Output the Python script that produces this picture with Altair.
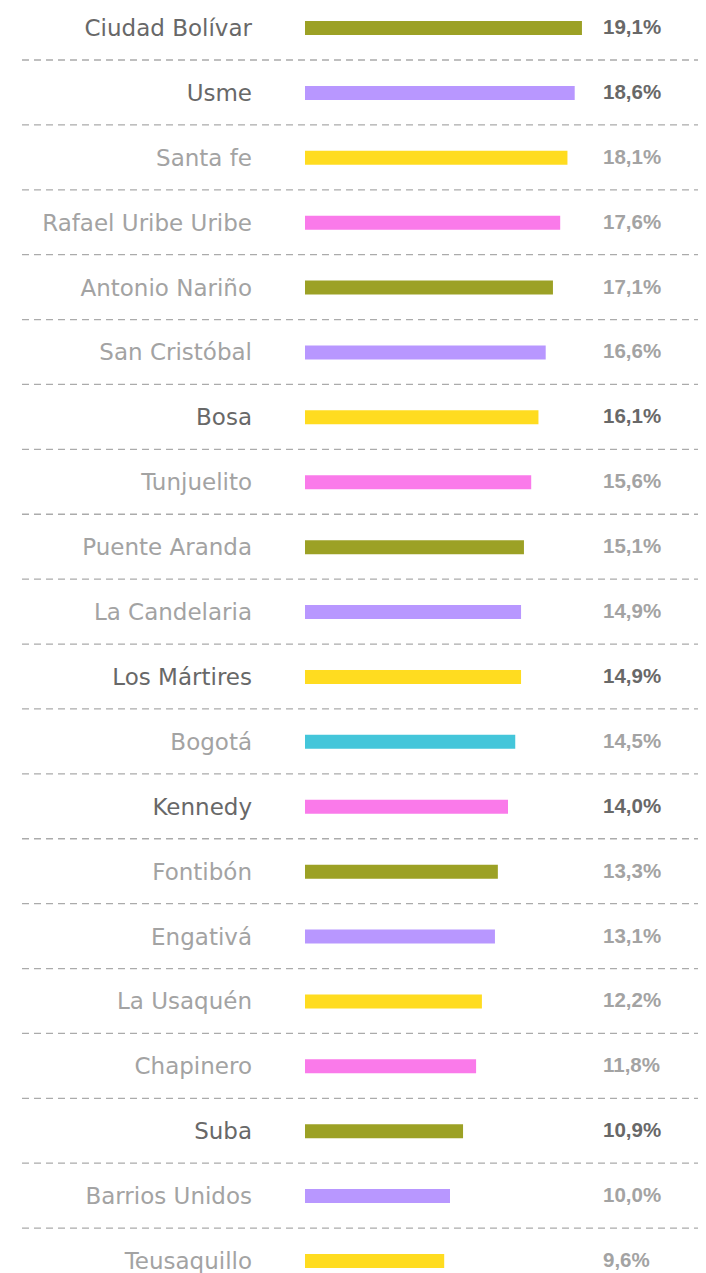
import altair as alt
import pandas as pd

districts = ["Ciudad Bolívar", "Usme", "Santa fe", "Rafael Uribe Uribe", "Antonio Nariño",
             "San Cristóbal", "Bosa", "Tunjuelito", "Puente Aranda", "La Candelaria",
             "Los Mártires", "Bogotá", "Kennedy", "Fontibón", "Engativá",
             "La Usaquén", "Chapinero", "Suba", "Barrios Unidos", "Teusaquillo"]
values = [19.1, 18.6, 18.1, 17.6, 17.1, 16.6, 16.1, 15.6, 15.1, 14.9,
          14.9, 14.5, 14.0, 13.3, 13.1, 12.2, 11.8, 10.9, 10.0, 9.6]
value_labels = ["19,1%", "18,6%", "18,1%", "17,6%", "17,1%", "16,6%", "16,1%", "15,6%", "15,1%", "14,9%",
                "14,9%", "14,5%", "14,0%", "13,3%", "13,1%", "12,2%", "11,8%", "10,9%", "10,0%", "9,6%"]
bar_colors = ["#9ca125", "#b897ff", "#ffdc20", "#fa7aea", "#9ca125", "#b897ff", "#ffdc20", "#fa7aea",
              "#9ca125", "#b897ff", "#ffdc20", "#44c6da", "#fa7aea", "#9ca125", "#b897ff", "#ffdc20",
              "#fa7aea", "#9ca125", "#b897ff", "#ffdc20"]
highlight = ["Ciudad Bolívar", "Usme", "Bosa", "Los Mártires", "Kennedy", "Suba"]

df = pd.DataFrame({"district": districts, "value": values, "label": value_labels, "color": bar_colors})
df["text_color"] = ["#686868" if d in highlight else "#a3a3a3" for d in districts]
df["sep"] = [i < len(districts) - 1 for i in range(len(districts))]

y = alt.Y("district:N", sort=None, axis=None,
          scale=alt.Scale(type="point", padding=0, range=[20, 1253]))
base = alt.Chart(df)

bars = base.mark_bar(size=14).encode(
    x=alt.X("value:Q", axis=None, scale=alt.Scale(domain=[0, 20], range=[297, 587])),
    x2=alt.value(297),
    y=y,
    color=alt.Color("color:N", scale=None),
)

names = base.mark_text(align="right", baseline="alphabetic", dy=8, font="DejaVu Sans",
                       fontSize=23).encode(
    x=alt.value(244), y=y, text="district:N",
    color=alt.Color("text_color:N", scale=None),
)

nums = base.mark_text(align="left", baseline="alphabetic", dy=6, font="Liberation Sans",
                      fontSize=20.5, fontWeight="bold").encode(
    x=alt.value(595), y=y, text="label:N",
    color=alt.Color("text_color:N", scale=None),
)

seps = base.transform_filter("datum.sep").mark_rule(
    yOffset=32, strokeDash=[7, 5], strokeWidth=1.3, color="#ababab").encode(
    x=alt.value(14), x2=alt.value(694), y=y,
)

chart = alt.layer(seps, bars, names, nums).properties(
    width=690, height=1265, padding=0, autosize="none"
).configure_view(stroke=None)

chart.save("out.html", embed_options={"renderer": "svg", "actions": False})
